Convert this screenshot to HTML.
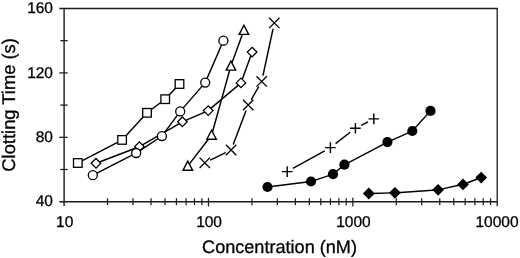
<!DOCTYPE html>
<html><head><meta charset="utf-8"><title>Chart</title>
<style>
html,body{margin:0;padding:0;background:#fff;}
body{width:520px;height:258px;overflow:hidden;font-family:"Liberation Sans",sans-serif;}
svg{text-rendering:geometricPrecision;display:block;will-change:transform;filter:grayscale(1);}
</style></head><body>
<svg width="520" height="258" viewBox="0 0 520 258">
<rect width="520" height="258" fill="#fff"/>
<g stroke="#1c1c1c" stroke-width="1.4" fill="none">
<line x1="64.1" y1="8.5" x2="64.1" y2="205.89999999999998"/>
<line x1="59.3" y1="201.7" x2="497.2" y2="201.7"/>
</g>
<g stroke="#1c1c1c" stroke-width="1.3" fill="none">
<line x1="59.3" y1="8.5" x2="497.84999999999997" y2="8.5"/>
<line x1="497.2" y1="8.5" x2="497.2" y2="206.29999999999998"/>
</g>
<g stroke="#1c1c1c" stroke-width="1.25" fill="none">
<line x1="60.3" y1="169.50" x2="67.69999999999999" y2="169.50"/>
<line x1="59.199999999999996" y1="137.30" x2="67.69999999999999" y2="137.30"/>
<line x1="60.3" y1="105.10" x2="67.69999999999999" y2="105.10"/>
<line x1="59.199999999999996" y1="72.90" x2="67.69999999999999" y2="72.90"/>
<line x1="60.3" y1="40.70" x2="67.69999999999999" y2="40.70"/>
<line x1="107.56" y1="198.2" x2="107.56" y2="205.2"/>
<line x1="132.98" y1="198.2" x2="132.98" y2="205.2"/>
<line x1="151.02" y1="198.2" x2="151.02" y2="205.2"/>
<line x1="165.01" y1="198.2" x2="165.01" y2="205.2"/>
<line x1="176.44" y1="198.2" x2="176.44" y2="205.2"/>
<line x1="186.10" y1="198.2" x2="186.10" y2="205.2"/>
<line x1="194.48" y1="198.2" x2="194.48" y2="205.2"/>
<line x1="201.86" y1="198.2" x2="201.86" y2="205.2"/>
<line x1="208.47" y1="197.79999999999998" x2="208.47" y2="206.5"/>
<line x1="251.93" y1="198.2" x2="251.93" y2="205.2"/>
<line x1="277.35" y1="198.2" x2="277.35" y2="205.2"/>
<line x1="295.38" y1="198.2" x2="295.38" y2="205.2"/>
<line x1="309.37" y1="198.2" x2="309.37" y2="205.2"/>
<line x1="320.81" y1="198.2" x2="320.81" y2="205.2"/>
<line x1="330.47" y1="198.2" x2="330.47" y2="205.2"/>
<line x1="338.84" y1="198.2" x2="338.84" y2="205.2"/>
<line x1="346.23" y1="198.2" x2="346.23" y2="205.2"/>
<line x1="352.83" y1="197.79999999999998" x2="352.83" y2="206.5"/>
<line x1="396.29" y1="198.2" x2="396.29" y2="205.2"/>
<line x1="421.71" y1="198.2" x2="421.71" y2="205.2"/>
<line x1="439.75" y1="198.2" x2="439.75" y2="205.2"/>
<line x1="453.74" y1="198.2" x2="453.74" y2="205.2"/>
<line x1="465.17" y1="198.2" x2="465.17" y2="205.2"/>
<line x1="474.84" y1="198.2" x2="474.84" y2="205.2"/>
<line x1="483.21" y1="198.2" x2="483.21" y2="205.2"/>
<line x1="490.59" y1="198.2" x2="490.59" y2="205.2"/>
</g>
<g stroke="#000" stroke-width="1.45" fill="none"><line x1="80.46" y1="161.61" x2="119.44" y2="141.29"/><line x1="124.13" y1="137.69" x2="144.97" y2="115.01"/><line x1="149.40" y1="111.00" x2="162.80" y2="101.00"/><line x1="167.26" y1="97.01" x2="177.44" y2="86.19"/></g><rect x="73.50" y="158.70" width="8.6" height="8.6" fill="#fff" stroke="#000" stroke-width="1.3"/><rect x="117.80" y="135.60" width="8.6" height="8.6" fill="#fff" stroke="#000" stroke-width="1.3"/><rect x="142.70" y="108.50" width="8.6" height="8.6" fill="#fff" stroke="#000" stroke-width="1.3"/><rect x="160.90" y="94.90" width="8.6" height="8.6" fill="#fff" stroke="#000" stroke-width="1.3"/><rect x="175.20" y="79.70" width="8.6" height="8.6" fill="#fff" stroke="#000" stroke-width="1.3"/><g stroke="#000" stroke-width="1.45" fill="none"><line x1="98.80" y1="162.23" x2="136.60" y2="147.77"/><line x1="142.00" y1="145.20" x2="179.80" y2="123.30"/><line x1="185.15" y1="120.61" x2="205.45" y2="111.79"/><line x1="210.49" y1="108.66" x2="238.71" y2="84.84"/><line x1="242.02" y1="80.08" x2="251.08" y2="54.92"/></g><path d="M96.00 158.50L100.80 163.30L96.00 168.10L91.20 163.30Z" fill="#fff" stroke="#000" stroke-width="1.3"/><path d="M139.40 141.90L144.20 146.70L139.40 151.50L134.60 146.70Z" fill="#fff" stroke="#000" stroke-width="1.3"/><path d="M182.40 117.00L187.20 121.80L182.40 126.60L177.60 121.80Z" fill="#fff" stroke="#000" stroke-width="1.3"/><path d="M208.20 105.80L213.00 110.60L208.20 115.40L203.40 110.60Z" fill="#fff" stroke="#000" stroke-width="1.3"/><path d="M241.00 78.10L245.80 82.90L241.00 87.70L236.20 82.90Z" fill="#fff" stroke="#000" stroke-width="1.3"/><path d="M252.10 47.30L256.90 52.10L252.10 56.90L247.30 52.10Z" fill="#fff" stroke="#000" stroke-width="1.3"/><g stroke="#000" stroke-width="1.45" fill="none"><line x1="95.47" y1="173.83" x2="133.53" y2="154.37"/><line x1="138.71" y1="151.35" x2="159.39" y2="137.75"/><line x1="163.69" y1="133.69" x2="178.41" y2="113.81"/><line x1="182.17" y1="109.13" x2="203.23" y2="84.87"/><line x1="206.40" y1="79.85" x2="222.20" y2="43.45"/></g><circle cx="92.80" cy="175.20" r="4.5" fill="#fff" stroke="#000" stroke-width="1.3"/><circle cx="136.20" cy="153.00" r="4.5" fill="#fff" stroke="#000" stroke-width="1.3"/><circle cx="161.90" cy="136.10" r="4.5" fill="#fff" stroke="#000" stroke-width="1.3"/><circle cx="180.20" cy="111.40" r="4.5" fill="#fff" stroke="#000" stroke-width="1.3"/><circle cx="205.20" cy="82.60" r="4.5" fill="#fff" stroke="#000" stroke-width="1.3"/><circle cx="223.40" cy="40.70" r="4.5" fill="#fff" stroke="#000" stroke-width="1.3"/><g stroke="#000" stroke-width="1.45" fill="none"><line x1="189.63" y1="163.62" x2="209.77" y2="137.48"/><line x1="212.41" y1="132.21" x2="230.09" y2="68.79"/><line x1="231.93" y1="63.08" x2="242.87" y2="33.02"/></g><path d="M187.80 161.10L192.55 170.20L183.05 170.20Z" fill="#fff" stroke="#000" stroke-width="1.4" stroke-linejoin="miter"/><path d="M211.60 130.20L216.35 139.30L206.85 139.30Z" fill="#fff" stroke="#000" stroke-width="1.4" stroke-linejoin="miter"/><path d="M230.90 61.00L235.65 70.10L226.15 70.10Z" fill="#fff" stroke="#000" stroke-width="1.4" stroke-linejoin="miter"/><path d="M243.90 25.30L248.65 34.40L239.15 34.40Z" fill="#fff" stroke="#000" stroke-width="1.4" stroke-linejoin="miter"/><g stroke="#000" stroke-width="1.45" fill="none"><line x1="210.19" y1="160.17" x2="225.71" y2="152.63"/><line x1="233.23" y1="144.39" x2="246.07" y2="110.61"/><line x1="251.18" y1="99.79" x2="258.72" y2="86.61"/><line x1="262.96" y1="75.53" x2="273.04" y2="28.77"/></g><path d="M199.60 157.60L210.00 168.00M210.00 157.60L199.60 168.00" fill="none" stroke="#000" stroke-width="1.3"/><path d="M225.90 144.80L236.30 155.20M236.30 144.80L225.90 155.20" fill="none" stroke="#000" stroke-width="1.3"/><path d="M243.00 99.80L253.40 110.20M253.40 99.80L243.00 110.20" fill="none" stroke="#000" stroke-width="1.3"/><path d="M256.50 76.20L266.90 86.60M266.90 76.20L256.50 86.60" fill="none" stroke="#000" stroke-width="1.3"/><path d="M269.10 17.70L279.50 28.10M279.50 17.70L269.10 28.10" fill="none" stroke="#000" stroke-width="1.3"/><g stroke="#000" stroke-width="1.45" fill="none"><line x1="292.88" y1="168.44" x2="324.72" y2="150.76"/><line x1="335.55" y1="143.63" x2="350.25" y2="132.27"/><line x1="361.19" y1="125.34" x2="368.01" y2="121.86"/></g><path d="M281.90 171.60L292.50 171.60M287.20 166.30L287.20 176.90" fill="none" stroke="#000" stroke-width="1.4"/><path d="M325.10 147.60L335.70 147.60M330.40 142.30L330.40 152.90" fill="none" stroke="#000" stroke-width="1.4"/><path d="M350.10 128.30L360.70 128.30M355.40 123.00L355.40 133.60" fill="none" stroke="#000" stroke-width="1.4"/><path d="M368.50 118.90L379.10 118.90M373.80 113.60L373.80 124.20" fill="none" stroke="#000" stroke-width="1.4"/><g stroke="#000" stroke-width="1.45" fill="none"><line x1="269.48" y1="186.75" x2="309.02" y2="181.75"/><line x1="312.90" y1="180.87" x2="331.10" y2="174.83"/><line x1="334.54" y1="172.92" x2="342.86" y2="165.98"/><line x1="346.17" y1="163.77" x2="385.63" y2="143.03"/><line x1="389.23" y1="141.29" x2="410.47" y2="131.81"/><line x1="413.64" y1="129.52" x2="429.16" y2="112.38"/></g><circle cx="267.50" cy="187.00" r="5.1" fill="#000"/><circle cx="311.00" cy="181.50" r="5.1" fill="#000"/><circle cx="333.00" cy="174.20" r="5.1" fill="#000"/><circle cx="344.40" cy="164.70" r="5.1" fill="#000"/><circle cx="387.40" cy="142.10" r="5.1" fill="#000"/><circle cx="412.30" cy="131.00" r="5.1" fill="#000"/><circle cx="430.50" cy="110.90" r="5.1" fill="#000"/><g stroke="#000" stroke-width="1.45" fill="none"><line x1="370.80" y1="193.45" x2="392.90" y2="192.85"/><line x1="396.90" y1="192.66" x2="436.10" y2="189.94"/><line x1="440.05" y1="189.38" x2="461.05" y2="184.82"/><line x1="464.87" y1="183.70" x2="479.33" y2="178.30"/></g><path d="M368.80 187.60L374.70 193.50L368.80 199.40L362.90 193.50Z" fill="#000"/><path d="M394.90 186.90L400.80 192.80L394.90 198.70L389.00 192.80Z" fill="#000"/><path d="M438.10 183.90L444.00 189.80L438.10 195.70L432.20 189.80Z" fill="#000"/><path d="M463.00 178.50L468.90 184.40L463.00 190.30L457.10 184.40Z" fill="#000"/><path d="M481.20 171.70L487.10 177.60L481.20 183.50L475.30 177.60Z" fill="#000"/>
<g font-family="'Liberation Sans', sans-serif" fill="#000" stroke="#000" stroke-width="0.3"><text x="53.0" y="206.40" text-anchor="end" font-size="15.5">40</text><text x="53.0" y="142.00" text-anchor="end" font-size="15.5">80</text><text x="53.0" y="77.60" text-anchor="end" font-size="15.5">120</text><text x="53.0" y="13.20" text-anchor="end" font-size="15.5">160</text><text x="64.70" y="226.7" text-anchor="middle" font-size="15.5">10</text><text x="209.07" y="226.7" text-anchor="middle" font-size="15.5">100</text><text x="353.43" y="226.7" text-anchor="middle" font-size="15.5">1000</text><text x="497.00" y="226.7" text-anchor="middle" font-size="15.5">10000</text><text x="279.5" y="252.9" text-anchor="middle" font-size="18.1">Concentration (nM)</text><text transform="translate(14.9 104.9) rotate(-90)" text-anchor="middle" font-size="18.35">Clotting Time (s)</text></g>
</svg>
</body></html>
